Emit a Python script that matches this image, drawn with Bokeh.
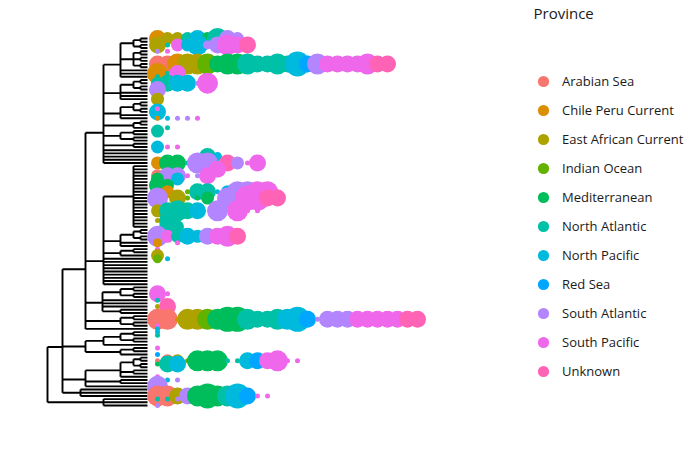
from bokeh.plotting import figure
from bokeh.models import Range1d, Legend, LegendItem, Label, ColumnDataSource
from bokeh.embed import file_html
from bokeh.resources import INLINE

# ---------------- data ----------------
provinces = ["Arabian Sea", "Chile Peru Current", "East African Current", "Indian Ocean",
             "Mediterranean", "North Atlantic", "North Pacific", "Red Sea",
             "South Atlantic", "South Pacific", "Unknown"]
codes = ["AS", "CP", "EA", "IO", "ME", "NA", "NP", "RS", "SA", "SP", "UN"]
palette = ["#F8766D", "#DB8E00", "#AEA200", "#64B200", "#00BD5C", "#00C1A7",
           "#00BADE", "#00A6FF", "#B385FF", "#EF67EB", "#FF63B6"]

# tree: [node depth, children...]; an integer child = that many tips on the node
tree = [0,
        [15,
         [38,
          [56,
           [73, [86, [93, 2], [93, 2]], [86, [93, 2], [93, 2], [93, 2]], 3],
           [73, [86, [93, 2], [93, 2]], 3],
           [73, [86, [93, 2], [93, 2]], 2],
           [86, [93, 2], 1],
           [73, [86, 2], [86, 2]],
           [86, 2],
           5],
          [56,
           [86, 20],
           [73, [86, [93, 2], [93, 2]], 2],
           [73, [86, 2], 1],
           9],
          [55, [73, [86, 2], [86, 2]], 3, [73, 2]],
          [73, [86, 2], [86, 2]],
          1],
         [38, [56, [73, [86, 2], [86, 2]], 1], [73, [86, 2], 1]],
         [38, [73, [86, [93, 2], [93, 2]], [86, 2], 1], [73, 2], 1],
         [33, 3]],
        [56, 3]]
tip_depth = 100

# bubbles: tip row, column, province code, size class
bub_row = [
    0, 0, 0, 0, 0, 0, 0, 0, 0,
    2, 2, 2, 2, 2, 2, 2, 2, 2, 2,
    4, 4,
    8, 8, 8, 8, 8, 8, 8, 8, 8, 8, 8, 8, 8, 8, 8, 8, 8, 8, 8, 8, 8, 8, 8, 8,
    9,
    11, 11, 11,
    12,
    14, 14, 14, 14, 14, 14,
    16,
    19,
    23,
    22,
    25, 25, 25, 25, 25,
    28,
    29,
    33,
    34, 34, 34,
    37, 37,
    39, 39, 39, 39, 39, 39, 39, 39, 39, 39, 39,
    41, 41,
    43, 43, 43, 43, 43, 43,
    44, 44,
    46, 46,
    48, 48, 48, 48, 48, 48, 48, 48, 48, 48, 48,
    50, 50, 50, 50, 50, 50, 50, 50, 50, 50, 50,
    54, 54, 54, 54, 54, 54, 54, 54, 54,
    57, 57,
    59, 59,
    62, 62, 62, 62, 62, 62, 62, 62, 62,
    64, 64,
    66,
    68,
    69, 69,
    80, 80,
    82,
    84, 84,
    88, 88, 88, 88, 88, 88, 88, 88, 88, 88, 88, 88, 88, 88, 88, 88, 88, 88, 88, 88, 88, 88, 88, 88, 88, 88, 88,
    90, 91, 92, 93, 97, 99,
    101, 101, 101, 101, 101, 101, 101, 101, 101, 101, 101, 101, 101, 101, 101,
    102, 102, 102,
    106,
    107, 107,
    109,
    112, 112, 112, 112, 112, 112, 112, 112, 112, 112, 112, 112,
    113, 113, 113,
    115,
]
bub_col = [
    0, 1, 2, 3, 4, 5, 6, 7, 8,
    0, 1, 2, 3, 4, 5, 6, 7, 8, 9,
    0, 1,
    0, 1, 2, 3, 4, 5, 6, 7, 8, 9, 10, 11, 12, 13, 14, 15, 16, 17, 18, 19, 20, 21, 22, 23,
    0,
    0, 1, 2,
    0,
    0, 1, 2, 3, 4, 5,
    0,
    0,
    0,
    0,
    0, 1, 2, 3, 4,
    1,
    0,
    0,
    0, 1, 2,
    5, 6,
    0, 1, 2, 3, 4, 5, 6, 7, 8, 9, 10,
    5, 6,
    0, 1, 2, 3, 4, 5,
    0, 2,
    0, 1,
    1, 3, 4, 5, 6, 7, 8, 9, 10, 11, 12,
    0, 2, 3, 4, 5, 7, 8, 9, 10, 11, 12,
    0, 1, 2, 3, 4, 6, 8, 9, 10,
    0, 1,
    1, 2,
    0, 1, 2, 3, 4, 5, 6, 7, 8,
    0, 2,
    0,
    0,
    0, 1,
    0, 1,
    0,
    0, 1,
    0, 1, 2, 3, 4, 5, 6, 7, 8, 9, 10, 11, 12, 13, 14, 15, 16, 17, 18, 19, 20, 21, 22, 23, 24, 25, 26,
    0, 0, 0, 0, 0, 0,
    0, 1, 2, 3, 4, 5, 6, 7, 8, 9, 10, 11, 12, 13, 14,
    0, 1, 2,
    0,
    1, 2,
    0,
    0, 1, 2, 3, 4, 5, 6, 7, 8, 9, 10, 11,
    0, 1, 2,
    0,
]
bub_prov = [
    "CP", "EA", "EA", "NA", "NP", "ME", "NA", "SA", "SA",
    "EA", "NA", "SP", "NP", "NP", "SA", "SA", "SP", "SP", "UN",
    "SA", "SP",
    "AS", "AS", "CP", "EA", "EA", "IO", "ME", "ME", "ME", "NA", "NA", "NA", "NA", "NA", "NP", "RS",
    "SA", "SP", "SP", "SP", "SP", "SP", "UN", "UN",
    "ME",
    "CP", "NA", "SP",
    "NA",
    "NA", "NA", "NP", "NP", "SA", "SP",
    "SA",
    "EA",
    "NP",
    "SP",
    "CP", "NP", "SA", "SA", "SP",
    "NA",
    "NA",
    "SP",
    "NP", "SP", "SP",
    "NA", "NP",
    "CP", "ME", "ME", "NA", "SA", "SA", "NA", "UN", "SA", "SP", "SP",
    "SA", "SP",
    "AS", "SA", "SA", "SP", "SA", "SP",
    "ME", "NP",
    "ME", "ME",
    "CP", "IO", "NA", "NA", "NP", "NP", "SA", "SA", "SP", "SP", "UN",
    "SA", "EA", "IO", "ME", "ME", "SA", "SA", "SP", "SP", "UN", "UN",
    "EA", "NA", "NA", "NA", "NP", "SA", "SP", "SP", "SP",
    "EA", "NA",
    "NA", "NA",
    "SA", "SP", "NA", "NP", "NP", "SA", "SP", "SP", "UN",
    "CP", "SP",
    "SP",
    "EA",
    "IO", "NP",
    "SP", "SP",
    "NA",
    "EA", "UN",
    "AS", "AS", "CP", "EA", "EA", "IO", "ME", "ME", "ME", "NA", "NA", "NA", "NA", "NP", "NP", "RS",
    "SA", "SA", "SA", "SA", "SP", "SP", "SP", "SP", "SP", "UN", "UN",
    "SP", "NP", "NP", "NA", "SP", "RS",
    "AS", "AS", "EA", "IO", "ME", "ME", "ME", "NA", "NA", "NP", "RS", "SP", "SP", "SP", "SP",
    "ME", "NA", "NP",
    "SP",
    "NP", "SA",
    "SA",
    "AS", "AS", "EA", "SA", "ME", "ME", "ME", "NA", "NP", "RS", "SP", "SP",
    "NA", "NA", "SA",
    "SA",
]
bub_size = [
    4, 3, 3, 3, 4, 3, 5, 4, 3,
    4, 1, 3, 3, 5, 2, 4, 5, 4, 4,
    1, 1,
    4, 4, 5, 5, 5, 5, 4, 5, 5, 5, 4, 4, 5, 4, 6, 4, 5, 4, 4, 4, 4, 5, 4, 4,
    1,
    5, 1, 4,
    1,
    3, 4, 4, 4, 1, 5,
    4,
    3,
    4,
    1,
    1, 1, 1, 1, 1,
    1,
    3,
    1,
    3, 1, 1,
    4, 2,
    3, 4, 4, 1, 5, 5, 1, 4, 3, 1, 4,
    1, 4,
    3, 4, 4, 1, 1, 4,
    3, 3,
    4, 3,
    3, 1, 4, 4, 1, 3, 5, 5, 5, 5, 1,
    5, 4, 1, 1, 3, 5, 5, 6, 6, 4, 4,
    3, 4, 5, 4, 4, 5, 5, 1, 1,
    1, 4,
    4, 3,
    5, 3, 3, 4, 3, 4, 4, 5, 4,
    2, 1,
    1,
    3,
    2, 1,
    4, 1,
    1,
    1, 4,
    5, 5, 1, 5, 5, 5, 5, 6, 6, 5, 4, 4, 5, 5, 6, 4,
    1, 4, 4, 4, 4, 4, 4, 4, 4, 4, 4,
    1, 1, 1, 1, 1, 1,
    1, 3, 3, 1, 5, 5, 5, 1, 1, 4, 4, 4, 5, 1, 1,
    1, 4, 4,
    1,
    1, 1,
    5,
    5, 5, 4, 4, 5, 6, 5, 5, 6, 4, 1, 1,
    1, 1, 1,
    1,
]

# ---------------- layout ----------------
seg_x0, seg_y0, seg_x1, seg_y1 = [], [], [], []
next_tip = [0]


def layout(node, parent_depth):
    depth = node[0]
    ys = []
    for ch in node[1:]:
        if isinstance(ch, int):
            for _ in range(ch):
                y = next_tip[0]
                next_tip[0] += 1
                seg_x0.append(depth); seg_y0.append(y)
                seg_x1.append(tip_depth); seg_y1.append(y)
                ys.append(y)
        else:
            ys.append(layout(ch, depth))
    y = sum(ys) / len(ys)
    seg_x0.append(depth); seg_y0.append(min(ys))
    seg_x1.append(depth); seg_y1.append(max(ys))
    if parent_depth is not None:
        seg_x0.append(parent_depth); seg_y0.append(y)
        seg_x1.append(depth); seg_y1.append(y)
    return y


layout(tree, None)
n_tips = next_tip[0]

W, H = 700, 450
top_px, bottom_px, root_px, tip_px = 38, 405, 47, 147
ypx = (bottom_px - top_px) / (n_tips - 1)
xpx = (tip_px - root_px) / tip_depth

p = figure(width=W, height=H, output_backend="svg", toolbar_location=None,
           x_range=Range1d(-root_px / xpx, (W - root_px) / xpx),
           y_range=Range1d((H - top_px) / ypx, -top_px / ypx),
           x_axis_location=None, y_axis_location=None, min_border=0)
p.grid.visible = False
p.outline_line_color = None
p.background_fill_color = "white"
p.border_fill_color = "white"

p.segment(x0=seg_x0, y0=seg_y0, x1=seg_x1, y1=seg_y1, line_color="black",
          line_width=1.9)

col_of = dict(zip(codes, palette))
bx = [tip_depth + (10 + 10 * c) / xpx for c in bub_col]
bsz = [5 + 4 * (s - 1) for s in bub_size]
src = ColumnDataSource(dict(x=bx, y=bub_row, size=bsz,
                            color=[col_of[c] for c in bub_prov]))
r_bub = p.scatter(x="x", y="y", size="size", fill_color="color", line_color=None,
                  source=src)

items = []
for name, code in zip(provinces, codes):
    items.append(LegendItem(label=name, renderers=[r_bub],
                            index=bub_prov.index(code)))
legend = Legend(items=items, location=(529, 65), glyph_width=28, glyph_height=28,
                spacing=1, label_standoff=5, padding=0, margin=0,
                border_line_alpha=0, background_fill_alpha=0,
                label_text_font_size="13px", label_text_font="Open Sans",
                label_text_color="#1a1a1a", label_height=28)
p.add_layout(legend)
p.add_layout(Label(x=533, y=H - 12, x_units="screen", y_units="screen",
                   text="Province", text_font_size="15px", text_font="Open Sans",
                   text_baseline="middle", text_color="#1a1a1a"))

open("out.html", "w").write(file_html(p, INLINE))
